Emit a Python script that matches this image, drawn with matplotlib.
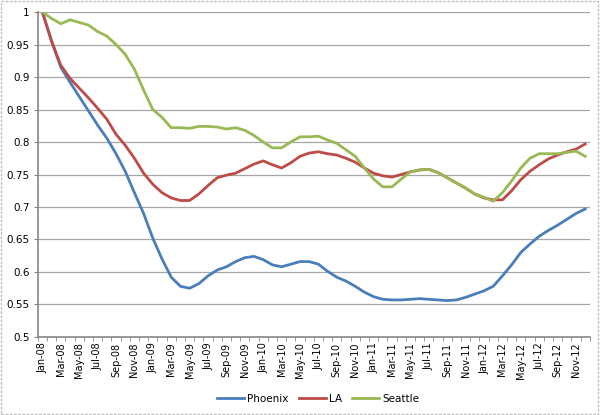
import matplotlib
matplotlib.use('Agg')
import matplotlib.pyplot as plt
from matplotlib.patches import Rectangle

# -----------------------------------------------------------------------------
# data (monthly, Jan-08 .. Dec-12)

months = ['%s-%02d' % (m, y) for y in range(8, 13)
          for m in ['Jan', 'Feb', 'Mar', 'Apr', 'May', 'Jun',
                    'Jul', 'Aug', 'Sep', 'Oct', 'Nov', 'Dec']]

phoenix = [1.0, 0.955, 0.915, 0.892, 0.870, 0.848, 0.826, 0.806, 0.782, 0.755,
           0.722, 0.690, 0.652, 0.620, 0.592, 0.578, 0.575, 0.582, 0.594, 0.603,
           0.608, 0.616, 0.622, 0.624, 0.619, 0.611, 0.608, 0.612, 0.616, 0.616,
           0.612, 0.601, 0.592, 0.586, 0.578, 0.569, 0.562, 0.558, 0.557, 0.557,
           0.558, 0.559, 0.558, 0.557, 0.556, 0.557, 0.561, 0.566, 0.571, 0.578,
           0.594, 0.611, 0.630, 0.643, 0.655, 0.664, 0.672, 0.681, 0.690, 0.697]

la = [1.0, 0.955, 0.918, 0.898, 0.883, 0.868, 0.852, 0.835, 0.812, 0.795,
      0.775, 0.752, 0.735, 0.722, 0.714, 0.710, 0.710, 0.720, 0.733, 0.745,
      0.749, 0.752, 0.759, 0.766, 0.771, 0.765, 0.760, 0.768, 0.778, 0.783,
      0.785, 0.782, 0.780, 0.775, 0.769, 0.760, 0.752, 0.748, 0.746, 0.750,
      0.754, 0.757, 0.758, 0.753, 0.745, 0.737, 0.729, 0.720, 0.714, 0.711,
      0.711, 0.725, 0.742, 0.755, 0.765, 0.774, 0.780, 0.785, 0.789, 0.797]

seattle = [1.0, 0.990, 0.982, 0.988, 0.984, 0.980, 0.970, 0.963, 0.950, 0.935,
           0.912, 0.880, 0.850, 0.838, 0.822, 0.822, 0.821, 0.824, 0.824, 0.823,
           0.820, 0.822, 0.818, 0.810, 0.800, 0.791, 0.791, 0.800, 0.808, 0.808,
           0.809, 0.803, 0.798, 0.788, 0.778, 0.760, 0.743, 0.731, 0.731, 0.743,
           0.754, 0.757, 0.758, 0.753, 0.745, 0.737, 0.729, 0.720, 0.715, 0.709,
           0.722, 0.740, 0.760, 0.775, 0.782, 0.782, 0.782, 0.784, 0.786, 0.778]

yticks = [0.5, 0.55, 0.6, 0.65, 0.7, 0.75, 0.8, 0.85, 0.9, 0.95, 1.0]
ytick_labels = ['0.5', '0.55', '0.6', '0.65', '0.7', '0.75', '0.8', '0.85',
                '0.9', '0.95', '1']

# -----------------------------------------------------------------------------

fig = plt.figure(figsize=(6.0, 4.15), dpi=100)
ax = fig.add_axes([0.063, 0.188, 0.920, 0.783])

x = list(range(len(months)))
ax.plot(x, phoenix, color='#4a7ebb', lw=2, label='Phoenix')
ax.plot(x, la, color='#be4b48', lw=2, label='LA')
ax.plot(x, seattle, color='#98b954', lw=2, label='Seattle')

ax.set_xlim(-0.5, len(months) - 0.5)
ax.set_ylim(0.5, 1.0)

ax.set_yticks(yticks)
ax.set_yticklabels(ytick_labels, fontsize=7.5)
ax.yaxis.grid(True, color='#a6a6a6', lw=0.9)
ax.set_axisbelow(True)

# labels every other month, tick marks between categories
ax.set_xticks(x[::2])
ax.set_xticklabels(months[::2], rotation=90, fontsize=7)
ax.tick_params(axis='x', length=0, pad=4)
ax.set_xticks([i - 0.5 for i in range(len(months) + 1)], minor=True)
ax.tick_params(axis='x', which='minor', length=3, color='#868686')
ax.tick_params(axis='y', length=3, color='#868686', pad=3)

for side in ['top', 'right']:
    ax.spines[side].set_visible(False)
for side in ['left', 'bottom']:
    ax.spines[side].set_color('#868686')
    ax.spines[side].set_linewidth(1.2)

fig.legend(loc='lower center', bbox_to_anchor=(0.53, 0.005), ncol=3,
           frameon=False, fontsize=7.5, handlelength=2.6, columnspacing=1.0,
           handletextpad=0.3)

# chart area border
fig.patches.append(Rectangle((0.002, 0.003), 0.995, 0.994,
                             transform=fig.transFigure, fill=False,
                             edgecolor='#c0c0c0', lw=1, ls=(0, (2, 1))))

fig.savefig('out.png', dpi=100)
